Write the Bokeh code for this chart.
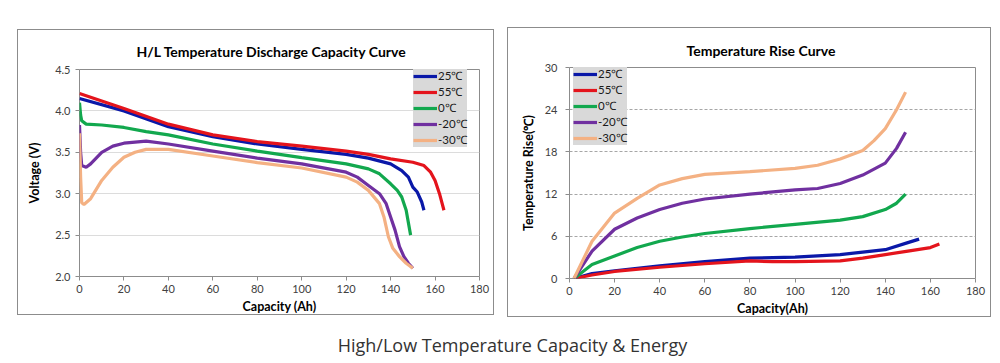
from bokeh.plotting import figure
from bokeh.models import Range1d, Legend, LegendItem, FixedTicker, Div, PrintfTickFormatter
from bokeh.layouts import row, column
from bokeh.embed import file_html
from bokeh.resources import INLINE

labels = ["25℃", "55℃", "0℃", "-20℃", "-30℃"]
colors = ["#0a18a8", "#e4141c", "#12a84e", "#7030a0", "#f4b183"]

# ---- Discharge capacity curves (Capacity Ah, Voltage V)
d25_x = [0, 20, 40, 60, 80, 100, 120, 130, 140, 145, 148, 150, 152, 154, 155]
d25_y = [4.15, 4.00, 3.81, 3.69, 3.60, 3.535, 3.475, 3.43, 3.36, 3.28, 3.20, 3.08, 3.02, 2.90, 2.80]
d55_x = [0, 20, 40, 60, 80, 100, 120, 130, 140, 150, 155, 158, 160, 162, 164]
d55_y = [4.21, 4.03, 3.84, 3.71, 3.63, 3.575, 3.515, 3.475, 3.42, 3.38, 3.34, 3.26, 3.16, 3.00, 2.80]
d0_x = [0, 0.5, 1, 3, 10, 20, 30, 40, 60, 80, 100, 120, 130, 135, 140, 143, 145, 147, 149]
d0_y = [4.10, 3.95, 3.88, 3.84, 3.83, 3.80, 3.75, 3.71, 3.60, 3.515, 3.435, 3.36, 3.30, 3.24, 3.12, 3.04, 2.96, 2.80, 2.50]
dm20_x = [0, 0.5, 1, 3, 5, 10, 15, 20, 30, 40, 60, 80, 100, 120, 125, 130, 135, 138, 140, 142, 144, 146, 148, 150]
dm20_y = [3.83, 3.50, 3.34, 3.32, 3.36, 3.50, 3.575, 3.61, 3.635, 3.60, 3.515, 3.43, 3.36, 3.26, 3.20, 3.10, 3.00, 2.88, 2.72, 2.56, 2.36, 2.24, 2.16, 2.10]
dm30_x = [0, 0.5, 1, 2, 5, 10, 15, 20, 25, 30, 40, 60, 80, 100, 120, 125, 130, 135, 137, 139, 141, 144, 147, 150]
dm30_y = [3.73, 3.20, 2.89, 2.87, 2.94, 3.16, 3.32, 3.44, 3.50, 3.535, 3.535, 3.455, 3.375, 3.31, 3.20, 3.14, 3.04, 2.88, 2.72, 2.48, 2.34, 2.24, 2.16, 2.10]

# ---- Temperature rise curves (Capacity Ah, Temperature rise ℃)
t25_x = [2, 10, 20, 40, 60, 80, 100, 120, 130, 140, 150, 155]
t25_y = [0, 0.7, 1.1, 1.8, 2.4, 2.9, 3.05, 3.4, 3.75, 4.1, 5.1, 5.6]
t55_x = [2, 10, 20, 40, 60, 80, 90, 100, 120, 130, 140, 150, 160, 164]
t55_y = [0, 0.5, 1.0, 1.6, 2.1, 2.5, 2.4, 2.4, 2.5, 2.9, 3.4, 3.9, 4.4, 4.9]
t0_x = [2, 10, 20, 30, 40, 50, 60, 80, 100, 120, 130, 140, 145, 149]
t0_y = [0, 2.0, 3.2, 4.4, 5.3, 5.9, 6.4, 7.1, 7.7, 8.3, 8.8, 9.8, 10.7, 12.0]
tm20_x = [2, 10, 20, 30, 40, 50, 60, 80, 100, 110, 120, 130, 140, 145, 149]
tm20_y = [0, 3.9, 7.0, 8.6, 9.8, 10.7, 11.3, 12.0, 12.6, 12.8, 13.5, 14.7, 16.4, 18.5, 20.8]
tm30_x = [2, 10, 20, 30, 40, 50, 60, 80, 100, 110, 120, 130, 135, 140, 145, 149]
tm30_y = [0, 5.3, 9.3, 11.4, 13.3, 14.2, 14.8, 15.2, 15.65, 16.1, 17.0, 18.2, 19.6, 21.3, 24.0, 26.5]

x_ticks = [0, 20, 40, 60, 80, 100, 120, 140, 160, 180]
v_ticks = [2.0, 2.5, 3.0, 3.5, 4.0, 4.5]
t_ticks = [0, 6, 12, 18, 24, 30]

FONT = "Lato"
BORDER = {"border": "1px solid #8c8c8c", "box-sizing": "border-box"}


def style(p, title, xlabel, ylabel, title_offset, title_standoff):
    p.title.text = title
    p.title.text_font = FONT
    p.title.text_font_size = "14px"
    p.title.text_font_style = "bold"
    p.title.text_color = "#000000"
    p.title.align = "left"
    p.title.offset = title_offset
    p.title.standoff = title_standoff
    p.outline_line_color = "#8c8c8c"
    p.outline_line_width = 1
    for ax in (p.xaxis, p.yaxis):
        ax.axis_line_color = None
        ax.major_tick_line_color = "#8c8c8c"
        ax.major_tick_out = 4
        ax.major_tick_in = 0
        ax.minor_tick_line_color = None
        ax.major_label_text_font = FONT
        ax.major_label_text_font_size = "11px"
        ax.major_label_text_color = "#404040"
        ax.axis_label_text_font = FONT
        ax.axis_label_text_font_size = "12.5px"
        ax.axis_label_text_font_style = "bold"
        ax.axis_label_text_color = "#000000"
    p.xaxis.axis_label = xlabel
    p.yaxis.axis_label = ylabel
    p.xaxis.major_label_standoff = 4
    p.xaxis.axis_label_standoff = 3
    p.yaxis.major_label_standoff = 5
    p.xaxis.ticker = FixedTicker(ticks=x_ticks)
    p.xgrid.grid_line_color = None


def add_lines(p, series, loc):
    items = []
    for (xs, ys), lab, col in zip(series, labels, colors):
        r = p.line(xs, ys, line_color=col, line_width=3.2)
        items.append(LegendItem(label=lab, renderers=[r]))
    leg = Legend(items=items, location=loc)
    leg.background_fill_color = "#d9d9d9"
    leg.background_fill_alpha = 1
    leg.border_line_color = None
    leg.label_text_font = FONT
    leg.label_text_font_size = "11.5px"
    leg.label_text_line_height = 1.0
    leg.label_text_color = "#1a1a1a"
    leg.label_height = 14
    leg.glyph_height = 14
    leg.glyph_width = 24
    leg.spacing = 1
    leg.padding = 3
    leg.margin = 0
    leg.label_standoff = 1
    p.add_layout(leg, "center")


# ---- Left chart
p1 = figure(width=477, height=286, output_backend="svg", toolbar_location=None,
            x_range=Range1d(0, 180), y_range=Range1d(2.0, 4.5),
            min_border_left=61, min_border_right=16, min_border_top=39, min_border_bottom=38,
            styles=BORDER, margin=(29, 0, 0, 17))
style(p1, "H/L Temperature Discharge Capacity  Curve", "Capacity (Ah)", "Voltage (V)", 57, 20)
p1.yaxis.ticker = FixedTicker(ticks=v_ticks)
p1.yaxis.formatter = PrintfTickFormatter(format="%.1f")
p1.yaxis.axis_label_standoff = 10
p1.ygrid.grid_line_color = "#dcdcdc"
p1.ygrid.grid_line_width = 1
add_lines(p1, [(d25_x, d25_y), (d55_x, d55_y), (d0_x, d0_y), (dm20_x, dm20_y), (dm30_x, dm30_y)], (334, 129))

# ---- Right chart
p2 = figure(width=484, height=290, output_backend="svg", toolbar_location=None,
            x_range=Range1d(0, 180), y_range=Range1d(0, 30),
            min_border_left=61, min_border_right=17, min_border_top=38, min_border_bottom=39,
            styles=BORDER, margin=(27, 0, 0, 13))
style(p2, "Temperature Rise Curve", "Capacity(Ah)", "Temperature Rise(℃)", 117, 18)
p2.yaxis.ticker = FixedTicker(ticks=t_ticks)
p2.yaxis.major_label_standoff = 8
p2.yaxis.axis_label_standoff = 6
p2.ygrid.grid_line_color = "#a6a6a6"
p2.ygrid.grid_line_dash = "3 2"
p2.ygrid.grid_line_width = 1
add_lines(p2, [(t25_x, t25_y), (t55_x, t55_y), (t0_x, t0_y), (tm20_x, tm20_y), (tm30_x, tm30_y)], (4, 133))

caption = Div(text="High/Low Temperature Capacity &amp; Energy", width=983, height=16,
              margin=(17, 0, 0, 21),
              styles={"text-align": "center", "font-family": "Open Sans", "font-size": "18px",
                      "color": "#333333", "line-height": "22px", "overflow": "visible"})

layout = column(row(p1, p2), caption)

open("out.html", "w").write(file_html(layout, INLINE))
